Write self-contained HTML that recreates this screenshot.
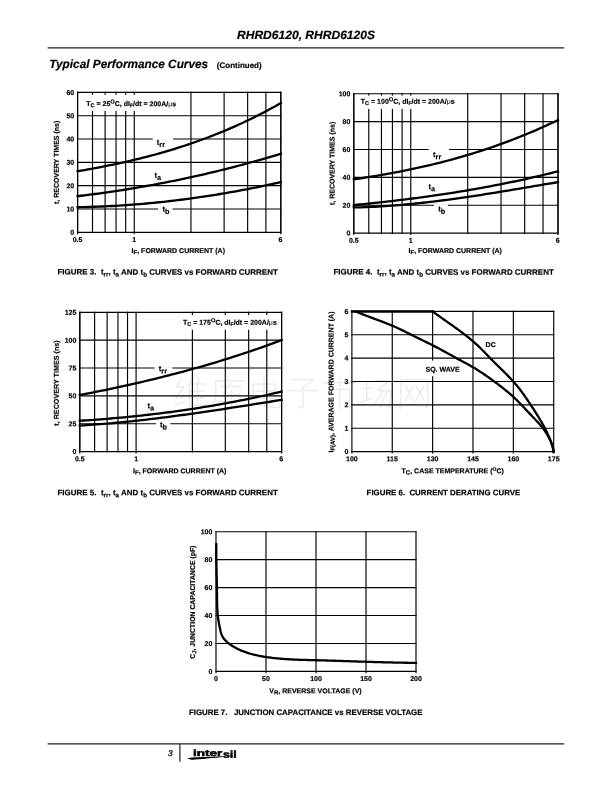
<!DOCTYPE html>
<html><head><meta charset="utf-8"><title>RHRD6120, RHRD6120S</title>
<style>
html,body{margin:0;padding:0;background:#fff;}
body{width:612px;height:792px;overflow:hidden;}
svg{display:block;will-change:transform;filter:blur(0.3px);font-family:"Liberation Sans", sans-serif;fill:#000;}
svg text{font-family:"Liberation Sans", sans-serif;text-rendering:geometricPrecision;stroke:#000;stroke-width:0.18px;}
</style></head><body>
<svg width="612" height="792" viewBox="0 0 612 792">
<rect x="0" y="0" width="612" height="792" fill="#fff"/>
<text x="237" y="38.9" transform="rotate(0.03 237 38.9)" font-size="12" font-weight="bold" font-style="italic" text-anchor="start" textLength="138" lengthAdjust="spacingAndGlyphs">RHRD6120, RHRD6120S</text>
<line x1="47.6" y1="47.95" x2="564.3" y2="47.95" stroke="#222" stroke-width="1.25"/>
<text x="49.3" y="68" transform="rotate(0.03 49.3 68)" font-size="12" font-weight="bold" font-style="italic" text-anchor="start" textLength="158.8" lengthAdjust="spacingAndGlyphs">Typical Performance Curves</text>
<text x="216.8" y="68" transform="rotate(0.03 216.8 68)" font-size="8" font-weight="bold" font-style="normal" text-anchor="start">(Continued)</text>
<line x1="47.6" y1="743.9" x2="564.3" y2="743.9" stroke="#222" stroke-width="1.25"/>
<line x1="179.9" y1="743.9" x2="179.9" y2="761.8" stroke="#222" stroke-width="1.2"/>
<text x="167.9" y="755.9" transform="rotate(0.03 167.9 755.9)" font-size="8.3" font-weight="normal" font-style="italic" text-anchor="start" style="stroke-width:0.3px">3</text>
<text x="193" y="755.9" transform="rotate(0.03 193 755.9)" font-size="9" font-weight="bold" font-style="normal" text-anchor="start" textLength="29.4" lengthAdjust="spacingAndGlyphs" style="stroke-width:0.5px">inter</text>
<text x="222.9" y="757.7" transform="rotate(0.03 222.9 757.7)" font-size="10" font-weight="bold" font-style="normal" text-anchor="start" textLength="13.8" lengthAdjust="spacingAndGlyphs" style="stroke-width:0.45px">sil</text>
<path d="M187.1,758.2 L192,757.5 L223.4,756.3 L223.4,756.9 Q207,758.4 198,759.3 Q192,759.9 190.5,759.4 Z" fill="#000"/>
<g id="wm"><path d="M181.54,378.28 L176.42,387.24 L184.1,386.6M184.1,386.6 L175.78,398.12 L185.38,396.84M175.14,405.16 L186.02,401.32M193.06,377.64 L187.94,386.6M189.86,384.68 L189.86,408.36M197.54,377.64 L199.46,381.48M197.54,382.12 L197.54,405.16M189.86,384.04 L205.22,384.04M189.86,391.08 L203.94,391.08M189.86,398.12 L203.94,398.12M189.86,405.16 L205.86,405.16" fill="none" stroke="#ebebeb" stroke-width="1.5" stroke-linecap="round" stroke-linejoin="round"/>
<path d="M227.8,377 L227.8,380.2M215.64,380.84 L243.16,380.84M215.64,380.84 L215.64,396.2 L212.44,408.36M220.76,386.6 L241.24,386.6M229.72,382.76 L223.32,394.92 L239.32,394.92M218.2,401.32 L243.16,401.32M231.64,389.8 L231.64,409" fill="none" stroke="#ebebeb" stroke-width="1.5" stroke-linecap="round" stroke-linejoin="round"/>
<path d="M252.94,384.04 L252.94,398.76M252.94,384.04 L275.34,384.04 L275.34,398.76M252.94,391.08 L275.34,391.08M252.94,398.12 L275.34,398.12M264.14,377.64 L264.14,405.16 L266.7,407.4 L279.5,407.4 L280.14,403.24" fill="none" stroke="#ebebeb" stroke-width="1.5" stroke-linecap="round" stroke-linejoin="round"/>
<path d="M291.2,379.56 L313.6,379.56 L303.04,387.24M303.04,387.24 L303.04,406.44 L298.56,407.72M287.04,390.44 L317.76,390.44" fill="none" stroke="#ebebeb" stroke-width="1.5" stroke-linecap="round" stroke-linejoin="round"/>
<path d="M339.7,377 L339.7,380.84M324.34,382.76 L355.06,382.76M329.46,389.16 L329.46,402.6M329.46,389.16 L349.94,389.16 L349.94,401.96 L346.74,403.24M339.7,382.76 L339.7,409" fill="none" stroke="#ebebeb" stroke-width="1.5" stroke-linecap="round" stroke-linejoin="round"/>
<path d="M361.64,388.2 L371.88,388.2M366.76,380.2 L366.76,400.04M361,401.96 L372.52,398.12M374.44,380.84 L389.16,380.84 L377.64,390.44M377.64,390.44 L391.4,390.44 L389.16,407.4 L385.96,406.44M383.4,390.44 L373.8,405.16M387.88,390.44 L379.56,407.4" fill="none" stroke="#ebebeb" stroke-width="1.5" stroke-linecap="round" stroke-linejoin="round"/>
<path d="M400.86,379.56 L400.86,408.36M400.86,379.56 L427.74,379.56 L427.74,406.44 L424.54,407.72M405.34,385.96 L413.02,400.04M413.02,385.96 L404.7,401.32M416.22,385.96 L423.9,400.04M423.9,385.96 L415.58,401.32" fill="none" stroke="#ebebeb" stroke-width="1.5" stroke-linecap="round" stroke-linejoin="round"/></g>
<line x1="77.6" y1="232.3" x2="280.8" y2="232.3" stroke="#000" stroke-width="1.15" stroke-linecap="square"/>
<line x1="77.6" y1="208.98" x2="280.8" y2="208.98" stroke="#000" stroke-width="1.15" stroke-linecap="square"/>
<line x1="77.6" y1="185.67" x2="280.8" y2="185.67" stroke="#000" stroke-width="1.15" stroke-linecap="square"/>
<line x1="77.6" y1="162.35" x2="280.8" y2="162.35" stroke="#000" stroke-width="1.15" stroke-linecap="square"/>
<line x1="77.6" y1="139.03" x2="280.8" y2="139.03" stroke="#000" stroke-width="1.15" stroke-linecap="square"/>
<line x1="77.6" y1="115.72" x2="280.8" y2="115.72" stroke="#000" stroke-width="1.15" stroke-linecap="square"/>
<line x1="77.6" y1="92.4" x2="280.8" y2="92.4" stroke="#000" stroke-width="1.15" stroke-linecap="square"/>
<line x1="77.6" y1="92.4" x2="77.6" y2="233.6" stroke="#000" stroke-width="1.15" stroke-linecap="square"/>
<line x1="92.51" y1="92.4" x2="92.51" y2="232.3" stroke="#000" stroke-width="1.15" stroke-linecap="square"/>
<line x1="105.11" y1="92.4" x2="105.11" y2="232.3" stroke="#000" stroke-width="1.15" stroke-linecap="square"/>
<line x1="116.03" y1="92.4" x2="116.03" y2="232.3" stroke="#000" stroke-width="1.15" stroke-linecap="square"/>
<line x1="125.67" y1="92.4" x2="125.67" y2="232.3" stroke="#000" stroke-width="1.15" stroke-linecap="square"/>
<line x1="134.28" y1="92.4" x2="134.28" y2="233.6" stroke="#000" stroke-width="1.15" stroke-linecap="square"/>
<line x1="190.96" y1="92.4" x2="190.96" y2="232.3" stroke="#000" stroke-width="1.15" stroke-linecap="square"/>
<line x1="224.12" y1="92.4" x2="224.12" y2="232.3" stroke="#000" stroke-width="1.15" stroke-linecap="square"/>
<line x1="247.64" y1="92.4" x2="247.64" y2="232.3" stroke="#000" stroke-width="1.15" stroke-linecap="square"/>
<line x1="265.89" y1="92.4" x2="265.89" y2="232.3" stroke="#000" stroke-width="1.15" stroke-linecap="square"/>
<line x1="280.8" y1="92.4" x2="280.8" y2="233.6" stroke="#000" stroke-width="1.15" stroke-linecap="square"/>
<rect x="78.6" y="94.8" width="71.4" height="16.1" fill="#fff"/>
<line x1="77.6" y1="92.4" x2="77.6" y2="232.3" stroke="#000" stroke-width="1.15" stroke-linecap="square"/>
<line x1="280.8" y1="92.4" x2="280.8" y2="232.3" stroke="#000" stroke-width="1.15" stroke-linecap="square"/>
<rect x="152.8" y="137.8" width="20.2" height="2.4" fill="#fff"/>
<rect x="158" y="208.1" width="14.6" height="2.4" fill="#fff"/>
<path d="M77.6,171.21 L81.04,170.62 L84.49,170.03 L87.93,169.42 L91.38,168.8 L94.82,168.17 L98.26,167.52 L101.71,166.86 L105.15,166.18 L108.6,165.49 L112.04,164.79 L115.48,164.07 L118.93,163.33 L122.37,162.58 L125.82,161.81 L129.26,161.02 L132.71,160.21 L136.15,159.39 L139.59,158.55 L143.04,157.69 L146.48,156.81 L149.93,155.91 L153.37,154.99 L156.81,154.05 L160.26,153.09 L163.7,152.11 L167.15,151.11 L170.59,150.08 L174.03,149.03 L177.48,147.96 L180.92,146.87 L184.37,145.75 L187.81,144.6 L191.25,143.44 L194.7,142.24 L198.14,141.03 L201.59,139.78 L205.03,138.51 L208.47,137.22 L211.92,135.89 L215.36,134.54 L218.81,133.16 L222.25,131.75 L225.69,130.32 L229.14,128.85 L232.58,127.36 L236.03,125.83 L239.47,124.28 L242.92,122.69 L246.36,121.07 L249.8,119.42 L253.25,117.74 L256.69,116.03 L260.14,114.28 L263.58,112.5 L267.02,110.69 L270.47,108.84 L273.91,106.96 L277.36,105.04 L280.8,103.09" fill="none" stroke="#000" stroke-width="2.3" stroke-linejoin="round" stroke-linecap="square"/>
<path d="M77.6,196.16 L81.04,195.75 L84.49,195.33 L87.93,194.9 L91.38,194.46 L94.82,194.01 L98.26,193.54 L101.71,193.07 L105.15,192.59 L108.6,192.1 L112.04,191.6 L115.48,191.09 L118.93,190.56 L122.37,190.03 L125.82,189.49 L129.26,188.93 L132.71,188.37 L136.15,187.79 L139.59,187.21 L143.04,186.61 L146.48,186 L149.93,185.39 L153.37,184.76 L156.81,184.12 L160.26,183.47 L163.7,182.81 L167.15,182.14 L170.59,181.46 L174.03,180.76 L177.48,180.06 L180.92,179.35 L184.37,178.62 L187.81,177.88 L191.25,177.14 L194.7,176.38 L198.14,175.61 L201.59,174.83 L205.03,174.03 L208.47,173.23 L211.92,172.42 L215.36,171.59 L218.81,170.75 L222.25,169.91 L225.69,169.05 L229.14,168.18 L232.58,167.29 L236.03,166.4 L239.47,165.49 L242.92,164.58 L246.36,163.65 L249.8,162.71 L253.25,161.76 L256.69,160.8 L260.14,159.82 L263.58,158.84 L267.02,157.84 L270.47,156.83 L273.91,155.81 L277.36,154.78 L280.8,153.73" fill="none" stroke="#000" stroke-width="2.3" stroke-linejoin="round" stroke-linecap="square"/>
<path d="M77.6,207.23 L81.04,207.16 L84.49,207.08 L87.93,206.99 L91.38,206.88 L94.82,206.77 L98.26,206.63 L101.71,206.49 L105.15,206.33 L108.6,206.17 L112.04,205.98 L115.48,205.79 L118.93,205.58 L122.37,205.36 L125.82,205.13 L129.26,204.89 L132.71,204.63 L136.15,204.36 L139.59,204.08 L143.04,203.79 L146.48,203.48 L149.93,203.17 L153.37,202.83 L156.81,202.49 L160.26,202.14 L163.7,201.77 L167.15,201.39 L170.59,201 L174.03,200.59 L177.48,200.18 L180.92,199.75 L184.37,199.31 L187.81,198.86 L191.25,198.39 L194.7,197.91 L198.14,197.43 L201.59,196.93 L205.03,196.41 L208.47,195.89 L211.92,195.35 L215.36,194.8 L218.81,194.24 L222.25,193.67 L225.69,193.09 L229.14,192.49 L232.58,191.88 L236.03,191.26 L239.47,190.63 L242.92,189.99 L246.36,189.33 L249.8,188.67 L253.25,187.99 L256.69,187.3 L260.14,186.6 L263.58,185.89 L267.02,185.16 L270.47,184.42 L273.91,183.68 L277.36,182.92 L280.8,182.15" fill="none" stroke="#000" stroke-width="2.3" stroke-linejoin="round" stroke-linecap="square"/>
<text x="156.8" y="144.8" transform="rotate(0.03 156.8 144.8)" font-size="7.6" text-anchor="start" font-weight="bold" font-style="normal">t<tspan dy="2.3" font-size="7.3">rr</tspan></text>
<text x="154.4" y="177.8" transform="rotate(0.03 154.4 177.8)" font-size="7.6" text-anchor="start" font-weight="bold" font-style="normal">t<tspan dy="2.3" font-size="7.3">a</tspan></text>
<text x="162.4" y="211.6" transform="rotate(0.03 162.4 211.6)" font-size="7.6" text-anchor="start" font-weight="bold" font-style="normal">t<tspan dy="2.3" font-size="7.3">b</tspan></text>
<text x="86.2" y="106.1" transform="rotate(0.03 86.2 106.1)" font-size="7" text-anchor="start" font-weight="bold" font-style="normal">T<tspan dy="1.2" font-size="5.6">C</tspan><tspan dy="-1.2"> = 25</tspan><tspan dy="-2.5" font-size="5.8">O</tspan><tspan dy="2.5">C, dI</tspan><tspan dy="1.2" font-size="5.0">F</tspan><tspan dy="-1.2">/dt = 200A/<tspan font-weight="normal" style="stroke:none">&#956;</tspan>s</tspan></text>
<text x="74.2" y="234.8" transform="rotate(0.03 74.2 234.8)" font-size="7" text-anchor="end" font-weight="bold" font-style="normal">0</text>
<text x="74.2" y="211.48" transform="rotate(0.03 74.2 211.48)" font-size="7" text-anchor="end" font-weight="bold" font-style="normal">10</text>
<text x="74.2" y="188.17" transform="rotate(0.03 74.2 188.17)" font-size="7" text-anchor="end" font-weight="bold" font-style="normal">20</text>
<text x="74.2" y="164.85" transform="rotate(0.03 74.2 164.85)" font-size="7" text-anchor="end" font-weight="bold" font-style="normal">30</text>
<text x="74.2" y="141.53" transform="rotate(0.03 74.2 141.53)" font-size="7" text-anchor="end" font-weight="bold" font-style="normal">40</text>
<text x="74.2" y="118.22" transform="rotate(0.03 74.2 118.22)" font-size="7" text-anchor="end" font-weight="bold" font-style="normal">50</text>
<text x="74.2" y="94.9" transform="rotate(0.03 74.2 94.9)" font-size="7" text-anchor="end" font-weight="bold" font-style="normal">60</text>
<text x="77.6" y="241.9" transform="rotate(0.03 77.6 241.9)" font-size="7" text-anchor="middle" font-weight="bold" font-style="normal">0.5</text>
<text x="134.28" y="241.9" transform="rotate(0.03 134.28 241.9)" font-size="7" text-anchor="middle" font-weight="bold" font-style="normal">1</text>
<text x="280.4" y="241.9" transform="rotate(0.03 280.4 241.9)" font-size="7" text-anchor="middle" font-weight="bold" font-style="normal">6</text>
<text transform="translate(58.7 162.35) rotate(-90.03)" font-size="7" text-anchor="middle" font-weight="bold">t, RECOVERY TIMES (ns)</text>
<text x="131.6" y="252.9" transform="rotate(0.03 131.6 252.9)" font-size="7" text-anchor="start" font-weight="bold" font-style="normal">I<tspan dy="1.3" font-size="6.0">F</tspan><tspan dy="-1.3">, FORWARD CURRENT (A)</tspan></text>
<text x="57.5" y="274.6" transform="rotate(0.03 57.5 274.6)" font-size="8" text-anchor="start" font-weight="bold" font-style="normal" textLength="220.3" lengthAdjust="spacingAndGlyphs">FIGURE 3.&#160; t<tspan dy="2" font-size="6.4">rr</tspan><tspan dy="-2">, t</tspan><tspan dy="2" font-size="6.4">a</tspan><tspan dy="-2"> AND t</tspan><tspan dy="2" font-size="6.4">b</tspan><tspan dy="-2"> CURVES vs FORWARD CURRENT</tspan></text>
<line x1="353.8" y1="233.1" x2="558" y2="233.1" stroke="#000" stroke-width="1.15" stroke-linecap="square"/>
<line x1="353.8" y1="205.22" x2="558" y2="205.22" stroke="#000" stroke-width="1.15" stroke-linecap="square"/>
<line x1="353.8" y1="177.34" x2="558" y2="177.34" stroke="#000" stroke-width="1.15" stroke-linecap="square"/>
<line x1="353.8" y1="149.46" x2="558" y2="149.46" stroke="#000" stroke-width="1.15" stroke-linecap="square"/>
<line x1="353.8" y1="121.58" x2="558" y2="121.58" stroke="#000" stroke-width="1.15" stroke-linecap="square"/>
<line x1="353.8" y1="93.7" x2="558" y2="93.7" stroke="#000" stroke-width="1.15" stroke-linecap="square"/>
<line x1="353.8" y1="93.7" x2="353.8" y2="234.4" stroke="#000" stroke-width="1.15" stroke-linecap="square"/>
<line x1="368.78" y1="93.7" x2="368.78" y2="233.1" stroke="#000" stroke-width="1.15" stroke-linecap="square"/>
<line x1="381.45" y1="93.7" x2="381.45" y2="233.1" stroke="#000" stroke-width="1.15" stroke-linecap="square"/>
<line x1="392.42" y1="93.7" x2="392.42" y2="233.1" stroke="#000" stroke-width="1.15" stroke-linecap="square"/>
<line x1="402.1" y1="93.7" x2="402.1" y2="233.1" stroke="#000" stroke-width="1.15" stroke-linecap="square"/>
<line x1="410.76" y1="93.7" x2="410.76" y2="234.4" stroke="#000" stroke-width="1.15" stroke-linecap="square"/>
<line x1="467.72" y1="93.7" x2="467.72" y2="233.1" stroke="#000" stroke-width="1.15" stroke-linecap="square"/>
<line x1="501.04" y1="93.7" x2="501.04" y2="233.1" stroke="#000" stroke-width="1.15" stroke-linecap="square"/>
<line x1="524.68" y1="93.7" x2="524.68" y2="233.1" stroke="#000" stroke-width="1.15" stroke-linecap="square"/>
<line x1="543.02" y1="93.7" x2="543.02" y2="233.1" stroke="#000" stroke-width="1.15" stroke-linecap="square"/>
<line x1="558" y1="93.7" x2="558" y2="234.4" stroke="#000" stroke-width="1.15" stroke-linecap="square"/>
<rect x="354.8" y="95.6" width="65.2" height="13.3" fill="#fff"/>
<line x1="353.8" y1="93.7" x2="353.8" y2="233.1" stroke="#000" stroke-width="1.15" stroke-linecap="square"/>
<line x1="558" y1="93.7" x2="558" y2="233.1" stroke="#000" stroke-width="1.15" stroke-linecap="square"/>
<rect x="428.75" y="148.6" width="20.25" height="2.4" fill="#fff"/>
<rect x="433.9" y="204.3" width="14.1" height="2.4" fill="#fff"/>
<path d="M353.8,179.29 L357.26,178.79 L360.72,178.28 L364.18,177.76 L367.64,177.23 L371.11,176.68 L374.57,176.12 L378.03,175.55 L381.49,174.96 L384.95,174.36 L388.41,173.74 L391.87,173.1 L395.33,172.46 L398.79,171.79 L402.25,171.11 L405.72,170.42 L409.18,169.71 L412.64,168.98 L416.1,168.24 L419.56,167.47 L423.02,166.7 L426.48,165.9 L429.94,165.09 L433.4,164.25 L436.86,163.4 L440.33,162.53 L443.79,161.65 L447.25,160.74 L450.71,159.81 L454.17,158.87 L457.63,157.9 L461.09,156.91 L464.55,155.91 L468.01,154.88 L471.47,153.83 L474.94,152.76 L478.4,151.67 L481.86,150.56 L485.32,149.42 L488.78,148.26 L492.24,147.08 L495.7,145.88 L499.16,144.66 L502.62,143.41 L506.08,142.13 L509.55,140.84 L513.01,139.52 L516.47,138.17 L519.93,136.8 L523.39,135.41 L526.85,133.99 L530.31,132.54 L533.77,131.07 L537.23,129.57 L540.69,128.05 L544.16,126.5 L547.62,124.92 L551.08,123.32 L554.54,121.69 L558,120.03" fill="none" stroke="#000" stroke-width="2.3" stroke-linejoin="round" stroke-linecap="square"/>
<path d="M353.8,205.08 L357.26,204.74 L360.72,204.4 L364.18,204.05 L367.64,203.69 L371.11,203.33 L374.57,202.97 L378.03,202.6 L381.49,202.22 L384.95,201.83 L388.41,201.44 L391.87,201.04 L395.33,200.63 L398.79,200.22 L402.25,199.8 L405.72,199.37 L409.18,198.93 L412.64,198.49 L416.1,198.04 L419.56,197.58 L423.02,197.11 L426.48,196.64 L429.94,196.15 L433.4,195.66 L436.86,195.16 L440.33,194.65 L443.79,194.13 L447.25,193.61 L450.71,193.07 L454.17,192.53 L457.63,191.97 L461.09,191.41 L464.55,190.83 L468.01,190.25 L471.47,189.66 L474.94,189.06 L478.4,188.45 L481.86,187.82 L485.32,187.19 L488.78,186.55 L492.24,185.89 L495.7,185.23 L499.16,184.56 L502.62,183.87 L506.08,183.17 L509.55,182.47 L513.01,181.75 L516.47,181.02 L519.93,180.28 L523.39,179.52 L526.85,178.76 L530.31,177.98 L533.77,177.19 L537.23,176.39 L540.69,175.58 L544.16,174.75 L547.62,173.92 L551.08,173.07 L554.54,172.2 L558,171.33" fill="none" stroke="#000" stroke-width="2.3" stroke-linejoin="round" stroke-linecap="square"/>
<path d="M353.8,207.44 L357.26,207.37 L360.72,207.28 L364.18,207.18 L367.64,207.05 L371.11,206.9 L374.57,206.74 L378.03,206.56 L381.49,206.36 L384.95,206.15 L388.41,205.91 L391.87,205.67 L395.33,205.4 L398.79,205.12 L402.25,204.83 L405.72,204.52 L409.18,204.19 L412.64,203.86 L416.1,203.51 L419.56,203.14 L423.02,202.76 L426.48,202.37 L429.94,201.97 L433.4,201.56 L436.86,201.13 L440.33,200.7 L443.79,200.25 L447.25,199.8 L450.71,199.33 L454.17,198.86 L457.63,198.37 L461.09,197.88 L464.55,197.38 L468.01,196.87 L471.47,196.35 L474.94,195.83 L478.4,195.3 L481.86,194.77 L485.32,194.22 L488.78,193.68 L492.24,193.13 L495.7,192.57 L499.16,192.01 L502.62,191.44 L506.08,190.87 L509.55,190.3 L513.01,189.73 L516.47,189.15 L519.93,188.57 L523.39,187.99 L526.85,187.41 L530.31,186.82 L533.77,186.24 L537.23,185.66 L540.69,185.07 L544.16,184.49 L547.62,183.91 L551.08,183.33 L554.54,182.75 L558,182.17" fill="none" stroke="#000" stroke-width="2.3" stroke-linejoin="round" stroke-linecap="square"/>
<text x="433.1" y="156.9" transform="rotate(0.03 433.1 156.9)" font-size="7.6" text-anchor="start" font-weight="bold" font-style="normal">t<tspan dy="2.3" font-size="7.3">rr</tspan></text>
<text x="428.5" y="189" transform="rotate(0.03 428.5 189)" font-size="7.6" text-anchor="start" font-weight="bold" font-style="normal">t<tspan dy="2.3" font-size="7.3">a</tspan></text>
<text x="438.2" y="211.4" transform="rotate(0.03 438.2 211.4)" font-size="7.6" text-anchor="start" font-weight="bold" font-style="normal">t<tspan dy="2.3" font-size="7.3">b</tspan></text>
<text x="360.8" y="103.8" transform="rotate(0.03 360.8 103.8)" font-size="7" text-anchor="start" font-weight="bold" font-style="normal">T<tspan dy="1.2" font-size="5.6">C</tspan><tspan dy="-1.2"> = 100</tspan><tspan dy="-2.5" font-size="5.8">O</tspan><tspan dy="2.5">C, dI</tspan><tspan dy="1.2" font-size="5.0">F</tspan><tspan dy="-1.2">/dt = 200A/<tspan font-weight="normal" style="stroke:none">&#956;</tspan>s</tspan></text>
<text x="350.4" y="235.6" transform="rotate(0.03 350.4 235.6)" font-size="7" text-anchor="end" font-weight="bold" font-style="normal">0</text>
<text x="350.4" y="207.72" transform="rotate(0.03 350.4 207.72)" font-size="7" text-anchor="end" font-weight="bold" font-style="normal">20</text>
<text x="350.4" y="179.84" transform="rotate(0.03 350.4 179.84)" font-size="7" text-anchor="end" font-weight="bold" font-style="normal">40</text>
<text x="350.4" y="151.96" transform="rotate(0.03 350.4 151.96)" font-size="7" text-anchor="end" font-weight="bold" font-style="normal">60</text>
<text x="350.4" y="124.08" transform="rotate(0.03 350.4 124.08)" font-size="7" text-anchor="end" font-weight="bold" font-style="normal">80</text>
<text x="350.4" y="96.2" transform="rotate(0.03 350.4 96.2)" font-size="7" text-anchor="end" font-weight="bold" font-style="normal">100</text>
<text x="353.8" y="242.7" transform="rotate(0.03 353.8 242.7)" font-size="7" text-anchor="middle" font-weight="bold" font-style="normal">0.5</text>
<text x="410.76" y="242.7" transform="rotate(0.03 410.76 242.7)" font-size="7" text-anchor="middle" font-weight="bold" font-style="normal">1</text>
<text x="557.6" y="242.7" transform="rotate(0.03 557.6 242.7)" font-size="7" text-anchor="middle" font-weight="bold" font-style="normal">6</text>
<text transform="translate(334.6 163.4) rotate(-90.03)" font-size="7" text-anchor="middle" font-weight="bold">t, RECOVERY TIMES (ns)</text>
<text x="408.5" y="252.9" transform="rotate(0.03 408.5 252.9)" font-size="7" text-anchor="start" font-weight="bold" font-style="normal">I<tspan dy="1.3" font-size="6.0">F</tspan><tspan dy="-1.3">, FORWARD CURRENT (A)</tspan></text>
<text x="333.5" y="274.6" transform="rotate(0.03 333.5 274.6)" font-size="8" text-anchor="start" font-weight="bold" font-style="normal" textLength="220.3" lengthAdjust="spacingAndGlyphs">FIGURE 4.&#160; t<tspan dy="2" font-size="6.4">rr</tspan><tspan dy="-2">, t</tspan><tspan dy="2" font-size="6.4">a</tspan><tspan dy="-2"> AND t</tspan><tspan dy="2" font-size="6.4">b</tspan><tspan dy="-2"> CURVES vs FORWARD CURRENT</tspan></text>
<line x1="79.8" y1="451.6" x2="281.6" y2="451.6" stroke="#000" stroke-width="1.15" stroke-linecap="square"/>
<line x1="79.8" y1="423.74" x2="281.6" y2="423.74" stroke="#000" stroke-width="1.15" stroke-linecap="square"/>
<line x1="79.8" y1="395.88" x2="281.6" y2="395.88" stroke="#000" stroke-width="1.15" stroke-linecap="square"/>
<line x1="79.8" y1="368.02" x2="281.6" y2="368.02" stroke="#000" stroke-width="1.15" stroke-linecap="square"/>
<line x1="79.8" y1="340.16" x2="281.6" y2="340.16" stroke="#000" stroke-width="1.15" stroke-linecap="square"/>
<line x1="79.8" y1="312.3" x2="281.6" y2="312.3" stroke="#000" stroke-width="1.15" stroke-linecap="square"/>
<line x1="79.8" y1="312.3" x2="79.8" y2="452.9" stroke="#000" stroke-width="1.15" stroke-linecap="square"/>
<line x1="94.61" y1="312.3" x2="94.61" y2="451.6" stroke="#000" stroke-width="1.15" stroke-linecap="square"/>
<line x1="107.13" y1="312.3" x2="107.13" y2="451.6" stroke="#000" stroke-width="1.15" stroke-linecap="square"/>
<line x1="117.97" y1="312.3" x2="117.97" y2="451.6" stroke="#000" stroke-width="1.15" stroke-linecap="square"/>
<line x1="127.53" y1="312.3" x2="127.53" y2="451.6" stroke="#000" stroke-width="1.15" stroke-linecap="square"/>
<line x1="136.09" y1="312.3" x2="136.09" y2="452.9" stroke="#000" stroke-width="1.15" stroke-linecap="square"/>
<line x1="192.38" y1="312.3" x2="192.38" y2="451.6" stroke="#000" stroke-width="1.15" stroke-linecap="square"/>
<line x1="225.31" y1="312.3" x2="225.31" y2="451.6" stroke="#000" stroke-width="1.15" stroke-linecap="square"/>
<line x1="248.67" y1="312.3" x2="248.67" y2="451.6" stroke="#000" stroke-width="1.15" stroke-linecap="square"/>
<line x1="266.79" y1="312.3" x2="266.79" y2="451.6" stroke="#000" stroke-width="1.15" stroke-linecap="square"/>
<line x1="281.6" y1="312.3" x2="281.6" y2="452.9" stroke="#000" stroke-width="1.15" stroke-linecap="square"/>
<rect x="178" y="315.1" width="102.6" height="14.6" fill="#fff"/>
<line x1="79.8" y1="312.3" x2="79.8" y2="451.6" stroke="#000" stroke-width="1.15" stroke-linecap="square"/>
<line x1="281.6" y1="312.3" x2="281.6" y2="451.6" stroke="#000" stroke-width="1.15" stroke-linecap="square"/>
<rect x="154.4" y="367.1" width="17.9" height="2.4" fill="#fff"/>
<rect x="155.9" y="422.8" width="14.4" height="2.4" fill="#fff"/>
<path d="M79.8,394.99 L83.22,394.34 L86.64,393.68 L90.06,393.02 L93.48,392.35 L96.9,391.67 L100.32,390.98 L103.74,390.28 L107.16,389.58 L110.58,388.86 L114,388.14 L117.42,387.41 L120.84,386.67 L124.26,385.93 L127.68,385.17 L131.11,384.41 L134.53,383.63 L137.95,382.85 L141.37,382.05 L144.79,381.25 L148.21,380.44 L151.63,379.62 L155.05,378.79 L158.47,377.95 L161.89,377.09 L165.31,376.23 L168.73,375.36 L172.15,374.48 L175.57,373.59 L178.99,372.68 L182.41,371.77 L185.83,370.85 L189.25,369.91 L192.67,368.96 L196.09,368.01 L199.51,367.04 L202.93,366.06 L206.35,365.07 L209.77,364.07 L213.19,363.05 L216.61,362.03 L220.03,360.99 L223.45,359.94 L226.87,358.88 L230.29,357.8 L233.72,356.72 L237.14,355.62 L240.56,354.51 L243.98,353.38 L247.4,352.24 L250.82,351.09 L254.24,349.93 L257.66,348.76 L261.08,347.57 L264.5,346.37 L267.92,345.15 L271.34,343.92 L274.76,342.68 L278.18,341.42 L281.6,340.15" fill="none" stroke="#000" stroke-width="2.3" stroke-linejoin="round" stroke-linecap="square"/>
<path d="M79.8,420.72 L83.22,420.51 L86.64,420.29 L90.06,420.06 L93.48,419.82 L96.9,419.58 L100.32,419.32 L103.74,419.05 L107.16,418.78 L110.58,418.5 L114,418.2 L117.42,417.9 L120.84,417.59 L124.26,417.27 L127.68,416.94 L131.11,416.6 L134.53,416.25 L137.95,415.89 L141.37,415.53 L144.79,415.15 L148.21,414.76 L151.63,414.37 L155.05,413.96 L158.47,413.54 L161.89,413.12 L165.31,412.68 L168.73,412.24 L172.15,411.78 L175.57,411.31 L178.99,410.84 L182.41,410.35 L185.83,409.85 L189.25,409.35 L192.67,408.83 L196.09,408.3 L199.51,407.77 L202.93,407.22 L206.35,406.66 L209.77,406.09 L213.19,405.51 L216.61,404.92 L220.03,404.32 L223.45,403.71 L226.87,403.08 L230.29,402.45 L233.72,401.81 L237.14,401.15 L240.56,400.49 L243.98,399.81 L247.4,399.12 L250.82,398.42 L254.24,397.71 L257.66,396.99 L261.08,396.25 L264.5,395.51 L267.92,394.75 L271.34,393.99 L274.76,393.21 L278.18,392.42 L281.6,391.61" fill="none" stroke="#000" stroke-width="2.3" stroke-linejoin="round" stroke-linecap="square"/>
<path d="M79.8,425.63 L83.22,425.42 L86.64,425.19 L90.06,424.96 L93.48,424.71 L96.9,424.45 L100.32,424.18 L103.74,423.9 L107.16,423.61 L110.58,423.31 L114,423 L117.42,422.68 L120.84,422.35 L124.26,422.01 L127.68,421.66 L131.11,421.3 L134.53,420.94 L137.95,420.56 L141.37,420.18 L144.79,419.79 L148.21,419.39 L151.63,418.98 L155.05,418.57 L158.47,418.15 L161.89,417.72 L165.31,417.28 L168.73,416.84 L172.15,416.39 L175.57,415.93 L178.99,415.47 L182.41,415.01 L185.83,414.53 L189.25,414.06 L192.67,413.57 L196.09,413.08 L199.51,412.59 L202.93,412.09 L206.35,411.59 L209.77,411.09 L213.19,410.58 L216.61,410.06 L220.03,409.55 L223.45,409.03 L226.87,408.5 L230.29,407.98 L233.72,407.45 L237.14,406.91 L240.56,406.38 L243.98,405.84 L247.4,405.31 L250.82,404.77 L254.24,404.23 L257.66,403.69 L261.08,403.14 L264.5,402.6 L267.92,402.05 L271.34,401.51 L274.76,400.96 L278.18,400.42 L281.6,399.88" fill="none" stroke="#000" stroke-width="2.3" stroke-linejoin="round" stroke-linecap="square"/>
<text x="158.8" y="371.1" transform="rotate(0.03 158.8 371.1)" font-size="7.6" text-anchor="start" font-weight="bold" font-style="normal">t<tspan dy="2.3" font-size="7.3">rr</tspan></text>
<text x="147.4" y="408.2" transform="rotate(0.03 147.4 408.2)" font-size="7.6" text-anchor="start" font-weight="bold" font-style="normal">t<tspan dy="2.3" font-size="7.3">a</tspan></text>
<text x="159.9" y="427.2" transform="rotate(0.03 159.9 427.2)" font-size="7.6" text-anchor="start" font-weight="bold" font-style="normal">t<tspan dy="2.3" font-size="7.3">b</tspan></text>
<text x="276.8" y="324.8" transform="rotate(0.03 276.8 324.8)" font-size="7" text-anchor="end" font-weight="bold" font-style="normal">T<tspan dy="1.2" font-size="5.6">C</tspan><tspan dy="-1.2"> = 175</tspan><tspan dy="-2.5" font-size="5.8">O</tspan><tspan dy="2.5">C, dI</tspan><tspan dy="1.2" font-size="5.0">F</tspan><tspan dy="-1.2">/dt = 200A/<tspan font-weight="normal" style="stroke:none">&#956;</tspan>s</tspan></text>
<text x="76.4" y="454.1" transform="rotate(0.03 76.4 454.1)" font-size="7" text-anchor="end" font-weight="bold" font-style="normal">0</text>
<text x="76.4" y="426.24" transform="rotate(0.03 76.4 426.24)" font-size="7" text-anchor="end" font-weight="bold" font-style="normal">25</text>
<text x="76.4" y="398.38" transform="rotate(0.03 76.4 398.38)" font-size="7" text-anchor="end" font-weight="bold" font-style="normal">50</text>
<text x="76.4" y="370.52" transform="rotate(0.03 76.4 370.52)" font-size="7" text-anchor="end" font-weight="bold" font-style="normal">75</text>
<text x="76.4" y="342.66" transform="rotate(0.03 76.4 342.66)" font-size="7" text-anchor="end" font-weight="bold" font-style="normal">100</text>
<text x="76.4" y="314.8" transform="rotate(0.03 76.4 314.8)" font-size="7" text-anchor="end" font-weight="bold" font-style="normal">125</text>
<text x="79.8" y="461.2" transform="rotate(0.03 79.8 461.2)" font-size="7" text-anchor="middle" font-weight="bold" font-style="normal">0.5</text>
<text x="136.09" y="461.2" transform="rotate(0.03 136.09 461.2)" font-size="7" text-anchor="middle" font-weight="bold" font-style="normal">1</text>
<text x="281.2" y="461.2" transform="rotate(0.03 281.2 461.2)" font-size="7" text-anchor="middle" font-weight="bold" font-style="normal">6</text>
<text transform="translate(58.7 383) rotate(-90.03)" font-size="7" text-anchor="middle" font-weight="bold" textLength="85.5" lengthAdjust="spacingAndGlyphs">t, RECOVERY TIMES (ns)</text>
<text x="133" y="473.2" transform="rotate(0.03 133 473.2)" font-size="7" text-anchor="start" font-weight="bold" font-style="normal">I<tspan dy="1.3" font-size="6.0">F</tspan><tspan dy="-1.3">, FORWARD CURRENT (A)</tspan></text>
<text x="57.5" y="495.2" transform="rotate(0.03 57.5 495.2)" font-size="8" text-anchor="start" font-weight="bold" font-style="normal" textLength="220.3" lengthAdjust="spacingAndGlyphs">FIGURE 5.&#160; t<tspan dy="2" font-size="6.4">rr</tspan><tspan dy="-2">, t</tspan><tspan dy="2" font-size="6.4">a</tspan><tspan dy="-2"> AND t</tspan><tspan dy="2" font-size="6.4">b</tspan><tspan dy="-2"> CURVES vs FORWARD CURRENT</tspan></text>
<line x1="351.9" y1="451.6" x2="553.7" y2="451.6" stroke="#000" stroke-width="1.15" stroke-linecap="square"/>
<line x1="351.9" y1="428.23" x2="553.7" y2="428.23" stroke="#000" stroke-width="1.15" stroke-linecap="square"/>
<line x1="351.9" y1="404.87" x2="553.7" y2="404.87" stroke="#000" stroke-width="1.15" stroke-linecap="square"/>
<line x1="351.9" y1="381.5" x2="553.7" y2="381.5" stroke="#000" stroke-width="1.15" stroke-linecap="square"/>
<line x1="351.9" y1="358.13" x2="553.7" y2="358.13" stroke="#000" stroke-width="1.15" stroke-linecap="square"/>
<line x1="351.9" y1="334.77" x2="553.7" y2="334.77" stroke="#000" stroke-width="1.15" stroke-linecap="square"/>
<line x1="351.9" y1="311.4" x2="553.7" y2="311.4" stroke="#000" stroke-width="1.15" stroke-linecap="square"/>
<line x1="351.9" y1="311.4" x2="351.9" y2="452.9" stroke="#000" stroke-width="1.15" stroke-linecap="square"/>
<line x1="392.26" y1="311.4" x2="392.26" y2="452.9" stroke="#000" stroke-width="1.15" stroke-linecap="square"/>
<line x1="432.62" y1="311.4" x2="432.62" y2="452.9" stroke="#000" stroke-width="1.15" stroke-linecap="square"/>
<line x1="472.98" y1="311.4" x2="472.98" y2="452.9" stroke="#000" stroke-width="1.15" stroke-linecap="square"/>
<line x1="513.34" y1="311.4" x2="513.34" y2="452.9" stroke="#000" stroke-width="1.15" stroke-linecap="square"/>
<line x1="553.7" y1="311.4" x2="553.7" y2="452.9" stroke="#000" stroke-width="1.15" stroke-linecap="square"/>
<rect x="424.6" y="360.6" width="35.6" height="15.6" fill="#fff"/>
<path d="M355.9,311.5 L359.25,312.92 L362.77,314.33 L366.41,315.75 L370.15,317.16 L373.93,318.58 L377.73,319.99 L381.49,321.41 L385.18,322.82 L388.76,324.24 L392.19,325.65 L395.43,327.07 L398.52,328.48 L401.48,329.9 L404.35,331.31 L407.18,332.73 L409.99,334.14 L412.82,335.56 L415.69,336.97 L418.6,338.39 L421.53,339.8 L424.45,341.22 L427.35,342.63 L430.21,344.05 L433.02,345.46 L435.76,346.88 L438.45,348.29 L441.08,349.71 L443.68,351.12 L446.25,352.54 L448.81,353.95 L451.36,355.37 L453.92,356.78 L456.5,358.2 L459.11,359.62 L461.73,361.03 L464.36,362.45 L466.97,363.86 L469.53,365.28 L472.04,366.69 L474.46,368.11 L476.8,369.52 L479.06,370.94 L481.25,372.35 L483.39,373.77 L485.47,375.18 L487.5,376.6 L489.49,378.01 L491.45,379.43 L493.38,380.84 L495.29,382.26 L497.18,383.67 L499.05,385.09 L500.89,386.5 L502.71,387.92 L504.5,389.33 L506.25,390.75 L507.97,392.16 L509.64,393.58 L511.28,394.99 L512.86,396.41 L514.4,397.82 L515.89,399.24 L517.33,400.65 L518.74,402.07 L520.13,403.48 L521.48,404.9 L522.82,406.32 L524.14,407.73 L525.46,409.15 L526.78,410.56 L528.09,411.98 L529.42,413.39 L530.77,414.81 L532.12,416.22 L533.48,417.64 L534.84,419.05 L536.18,420.47 L537.51,421.88 L538.8,423.3 L540.05,424.71 L541.26,426.13 L542.41,427.54 L543.5,428.96 L544.52,430.37 L545.48,431.79 L546.38,433.2 L547.23,434.62 L548.04,436.03 L548.8,437.45 L549.53,438.86 L550.23,440.28 L550.88,441.69 L551.49,443.11 L552.03,444.52 L552.5,445.94 L552.89,447.35 L553.19,448.77 L553.4,450.18 L553.5,451.6" fill="none" stroke="#000" stroke-width="2.3" stroke-linejoin="round" stroke-linecap="square"/>
<path d="M351.9,311.5 L432.7,311.5" fill="none" stroke="#000" stroke-width="2.3" stroke-linejoin="round" stroke-linecap="square"/>
<path d="M432.7,311.5 L434.63,312.92 L436.59,314.33 L438.56,315.75 L440.55,317.16 L442.55,318.58 L444.56,319.99 L446.57,321.41 L448.58,322.82 L450.59,324.24 L452.58,325.65 L454.57,327.07 L456.54,328.48 L458.49,329.9 L460.42,331.31 L462.32,332.73 L464.19,334.14 L466.03,335.56 L467.83,336.97 L469.58,338.39 L471.29,339.8 L472.95,341.22 L474.56,342.63 L476.12,344.05 L477.64,345.46 L479.12,346.88 L480.57,348.29 L482,349.71 L483.4,351.12 L484.78,352.54 L486.16,353.95 L487.52,355.37 L488.89,356.78 L490.26,358.2 L491.64,359.62 L493.03,361.03 L494.44,362.45 L495.86,363.86 L497.3,365.28 L498.74,366.69 L500.19,368.11 L501.63,369.52 L503.07,370.94 L504.51,372.35 L505.93,373.77 L507.33,375.18 L508.72,376.6 L510.08,378.01 L511.41,379.43 L512.72,380.84 L513.98,382.26 L515.22,383.67 L516.41,385.09 L517.58,386.5 L518.71,387.92 L519.82,389.33 L520.9,390.75 L521.96,392.16 L522.99,393.58 L524.01,394.99 L525,396.41 L525.99,397.82 L526.95,399.24 L527.91,400.65 L528.86,402.07 L529.8,403.48 L530.73,404.9 L531.66,406.32 L532.59,407.73 L533.51,409.15 L534.42,410.56 L535.33,411.98 L536.23,413.39 L537.11,414.81 L537.99,416.22 L538.86,417.64 L539.71,419.05 L540.55,420.47 L541.37,421.88 L542.18,423.3 L542.97,424.71 L543.75,426.13 L544.5,427.54 L545.24,428.96 L545.95,430.37 L546.65,431.79 L547.32,433.2 L547.98,434.62 L548.61,436.03 L549.22,437.45 L549.81,438.86 L550.37,440.28 L550.91,441.69 L551.42,443.11 L551.88,444.52 L552.31,445.94 L552.69,447.35 L553.02,448.77 L553.29,450.18 L553.5,451.6" fill="none" stroke="#000" stroke-width="2.3" stroke-linejoin="round" stroke-linecap="square"/>
<text x="425.5" y="371.8" transform="rotate(0.03 425.5 371.8)" font-size="7" text-anchor="start" font-weight="bold" font-style="normal">SQ. WAVE</text>
<text x="485.6" y="347.1" transform="rotate(0.03 485.6 347.1)" font-size="7" text-anchor="start" font-weight="bold" font-style="normal">DC</text>
<text x="348.3" y="454.1" transform="rotate(0.03 348.3 454.1)" font-size="7" text-anchor="end" font-weight="bold" font-style="normal">0</text>
<text x="348.3" y="430.73" transform="rotate(0.03 348.3 430.73)" font-size="7" text-anchor="end" font-weight="bold" font-style="normal">1</text>
<text x="348.3" y="407.37" transform="rotate(0.03 348.3 407.37)" font-size="7" text-anchor="end" font-weight="bold" font-style="normal">2</text>
<text x="348.3" y="384" transform="rotate(0.03 348.3 384)" font-size="7" text-anchor="end" font-weight="bold" font-style="normal">3</text>
<text x="348.3" y="360.63" transform="rotate(0.03 348.3 360.63)" font-size="7" text-anchor="end" font-weight="bold" font-style="normal">4</text>
<text x="348.3" y="337.27" transform="rotate(0.03 348.3 337.27)" font-size="7" text-anchor="end" font-weight="bold" font-style="normal">5</text>
<text x="348.3" y="313.9" transform="rotate(0.03 348.3 313.9)" font-size="7" text-anchor="end" font-weight="bold" font-style="normal">6</text>
<text x="351.9" y="461.2" transform="rotate(0.03 351.9 461.2)" font-size="7" text-anchor="middle" font-weight="bold" font-style="normal">100</text>
<text x="392.26" y="461.2" transform="rotate(0.03 392.26 461.2)" font-size="7" text-anchor="middle" font-weight="bold" font-style="normal">115</text>
<text x="432.62" y="461.2" transform="rotate(0.03 432.62 461.2)" font-size="7" text-anchor="middle" font-weight="bold" font-style="normal">130</text>
<text x="472.98" y="461.2" transform="rotate(0.03 472.98 461.2)" font-size="7" text-anchor="middle" font-weight="bold" font-style="normal">145</text>
<text x="513.34" y="461.2" transform="rotate(0.03 513.34 461.2)" font-size="7" text-anchor="middle" font-weight="bold" font-style="normal">160</text>
<text x="553.7" y="461.2" transform="rotate(0.03 553.7 461.2)" font-size="7" text-anchor="middle" font-weight="bold" font-style="normal">175</text>
<text transform="translate(333.5 382) rotate(-90.03)" font-size="7" text-anchor="middle" font-weight="bold" textLength="141" lengthAdjust="spacingAndGlyphs">I<tspan dy="1.3" font-size="6.0">F(AV)</tspan><tspan dy="-1.3">, AVERAGE FORWARD CURRENT (A)</tspan></text>
<text x="401.6" y="473.2" transform="rotate(0.03 401.6 473.2)" font-size="7" text-anchor="start" font-weight="bold" font-style="normal">T<tspan dy="1.3" font-size="6.0">C</tspan><tspan dy="-1.3">, CASE TEMPERATURE (</tspan><tspan dy="-2.5" font-size="5.0">O</tspan><tspan dy="2.5">C)</tspan></text>
<text x="366.6" y="495.2" transform="rotate(0.03 366.6 495.2)" font-size="8" text-anchor="start" font-weight="bold" font-style="normal" textLength="153.6" lengthAdjust="spacingAndGlyphs">FIGURE 6.&#160; CURRENT DERATING CURVE</text>
<line x1="216" y1="671.4" x2="416" y2="671.4" stroke="#000" stroke-width="1.15" stroke-linecap="square"/>
<line x1="216" y1="643.46" x2="416" y2="643.46" stroke="#000" stroke-width="1.15" stroke-linecap="square"/>
<line x1="216" y1="615.52" x2="416" y2="615.52" stroke="#000" stroke-width="1.15" stroke-linecap="square"/>
<line x1="216" y1="587.58" x2="416" y2="587.58" stroke="#000" stroke-width="1.15" stroke-linecap="square"/>
<line x1="216" y1="559.64" x2="416" y2="559.64" stroke="#000" stroke-width="1.15" stroke-linecap="square"/>
<line x1="216" y1="531.7" x2="416" y2="531.7" stroke="#000" stroke-width="1.15" stroke-linecap="square"/>
<line x1="216" y1="531.7" x2="216" y2="672.7" stroke="#000" stroke-width="1.15" stroke-linecap="square"/>
<line x1="266" y1="531.7" x2="266" y2="672.7" stroke="#000" stroke-width="1.15" stroke-linecap="square"/>
<line x1="316" y1="531.7" x2="316" y2="672.7" stroke="#000" stroke-width="1.15" stroke-linecap="square"/>
<line x1="366" y1="531.7" x2="366" y2="672.7" stroke="#000" stroke-width="1.15" stroke-linecap="square"/>
<line x1="416" y1="531.7" x2="416" y2="672.7" stroke="#000" stroke-width="1.15" stroke-linecap="square"/>
<path d="M216.3,544.27 L216.29,545.75 L216.28,547.22 L216.27,548.69 L216.27,550.16 L216.27,551.63 L216.27,553.1 L216.28,554.57 L216.29,556.04 L216.31,557.51 L216.33,558.98 L216.35,560.45 L216.37,561.91 L216.39,563.38 L216.42,564.85 L216.45,566.31 L216.48,567.78 L216.51,569.25 L216.54,570.71 L216.57,572.18 L216.6,573.64 L216.63,575.11 L216.67,576.58 L216.7,578.04 L216.73,579.51 L216.76,580.98 L216.8,582.45 L216.83,583.91 L216.86,585.38 L216.88,586.85 L216.91,588.32 L216.93,589.79 L216.96,591.26 L216.98,592.73 L217,594.2 L217.01,595.67 L217.03,597.15 L217.04,598.62 L217.06,600.09 L217.08,601.56 L217.1,603.04 L217.14,604.51 L217.18,605.98 L217.23,607.45 L217.3,608.91 L217.38,610.38 L217.47,611.84 L217.59,613.3 L217.72,614.76 L217.88,616.21 L218.05,617.66 L218.25,619.11 L218.47,620.56 L218.7,622 L218.96,623.45 L219.23,624.89 L219.52,626.34 L219.82,627.78 L220.14,629.23 L220.48,630.68 L220.85,632.12 L221.27,633.54 L221.77,634.92 L222.36,636.26 L223.07,637.52 L223.91,638.72 L224.84,639.85 L225.86,640.92 L226.95,641.94 L228.1,642.9 L229.27,643.82 L230.47,644.7 L231.7,645.53 L232.94,646.33 L234.2,647.08 L235.49,647.8 L236.78,648.48 L238.1,649.14 L239.43,649.76 L240.77,650.35 L242.12,650.91 L243.49,651.44 L244.86,651.95 L246.25,652.43 L247.64,652.89 L249.05,653.33 L250.46,653.74 L251.88,654.13 L253.3,654.5 L254.73,654.86 L256.17,655.19 L257.61,655.5 L259.06,655.8 L260.51,656.08 L261.96,656.35 L263.42,656.6 L264.87,656.84 L266.33,657.06 L267.79,657.28 L269.25,657.48 L270.71,657.67 L272.17,657.85 L273.63,658.02 L275.1,658.18 L276.56,658.34 L278.02,658.48 L279.49,658.61 L280.95,658.74 L282.41,658.86 L283.88,658.97 L285.34,659.07 L286.81,659.17 L288.28,659.26 L289.74,659.34 L291.21,659.42 L292.67,659.49 L294.14,659.56 L295.61,659.62 L297.08,659.68 L298.54,659.74 L300.01,659.79 L301.48,659.84 L302.95,659.88 L304.42,659.93 L305.89,659.97 L307.35,660.01 L308.82,660.04 L310.29,660.08 L311.76,660.12 L313.23,660.15 L314.7,660.19 L316.17,660.23 L317.64,660.27 L319.1,660.3 L320.57,660.34 L322.04,660.38 L323.51,660.43 L324.98,660.47 L326.45,660.51 L327.91,660.55 L329.38,660.6 L330.85,660.64 L332.32,660.68 L333.79,660.73 L335.25,660.77 L336.72,660.82 L338.19,660.87 L339.66,660.91 L341.13,660.96 L342.59,661.01 L344.06,661.05 L345.53,661.1 L347,661.15 L348.47,661.2 L349.93,661.24 L351.4,661.29 L352.87,661.34 L354.34,661.39 L355.8,661.43 L357.27,661.48 L358.74,661.53 L360.21,661.58 L361.67,661.62 L363.14,661.67 L364.61,661.72 L366.08,661.76 L367.55,661.81 L369.01,661.85 L370.48,661.9 L371.95,661.94 L373.42,661.99 L374.88,662.03 L376.35,662.07 L377.82,662.12 L379.29,662.16 L380.76,662.2 L382.22,662.24 L383.69,662.28 L385.16,662.32 L386.63,662.35 L388.1,662.39 L389.56,662.43 L391.03,662.46 L392.5,662.5 L393.97,662.53 L395.44,662.56 L396.91,662.59 L398.37,662.62 L399.84,662.65 L401.31,662.68 L402.78,662.7 L404.25,662.73 L405.72,662.75 L407.19,662.77 L408.65,662.8 L410.12,662.81 L411.59,662.83 L413.06,662.85 L414.53,662.86 L416,662.88" fill="none" stroke="#000" stroke-width="2.3" stroke-linejoin="round" stroke-linecap="square"/>
<text x="212.4" y="673.9" transform="rotate(0.03 212.4 673.9)" font-size="7" text-anchor="end" font-weight="bold" font-style="normal">0</text>
<text x="212.4" y="645.96" transform="rotate(0.03 212.4 645.96)" font-size="7" text-anchor="end" font-weight="bold" font-style="normal">20</text>
<text x="212.4" y="618.02" transform="rotate(0.03 212.4 618.02)" font-size="7" text-anchor="end" font-weight="bold" font-style="normal">40</text>
<text x="212.4" y="590.08" transform="rotate(0.03 212.4 590.08)" font-size="7" text-anchor="end" font-weight="bold" font-style="normal">60</text>
<text x="212.4" y="562.14" transform="rotate(0.03 212.4 562.14)" font-size="7" text-anchor="end" font-weight="bold" font-style="normal">80</text>
<text x="212.4" y="534.2" transform="rotate(0.03 212.4 534.2)" font-size="7" text-anchor="end" font-weight="bold" font-style="normal">100</text>
<text x="216" y="681" transform="rotate(0.03 216 681)" font-size="7" text-anchor="middle" font-weight="bold" font-style="normal">0</text>
<text x="266" y="681" transform="rotate(0.03 266 681)" font-size="7" text-anchor="middle" font-weight="bold" font-style="normal">50</text>
<text x="316" y="681" transform="rotate(0.03 316 681)" font-size="7" text-anchor="middle" font-weight="bold" font-style="normal">100</text>
<text x="366" y="681" transform="rotate(0.03 366 681)" font-size="7" text-anchor="middle" font-weight="bold" font-style="normal">150</text>
<text x="416" y="681" transform="rotate(0.03 416 681)" font-size="7" text-anchor="middle" font-weight="bold" font-style="normal">200</text>
<text transform="translate(195 602.2) rotate(-90.03)" font-size="7" text-anchor="middle" font-weight="bold" textLength="113.2" lengthAdjust="spacingAndGlyphs">C<tspan dy="1.3" font-size="6.0">J</tspan><tspan dy="-1.3">, JUNCTION CAPACITANCE (pF)</tspan></text>
<text x="269.3" y="693.2" transform="rotate(0.03 269.3 693.2)" font-size="7" text-anchor="start" font-weight="bold" font-style="normal">V<tspan dy="1.3" font-size="6.0">R</tspan><tspan dy="-1.3">, REVERSE VOLTAGE (V)</tspan></text>
<text x="188.9" y="715" transform="rotate(0.03 188.9 715)" font-size="8" text-anchor="start" font-weight="bold" font-style="normal" textLength="233.6" lengthAdjust="spacingAndGlyphs">FIGURE 7.&#160;&#160; JUNCTION CAPACITANCE vs REVERSE VOLTAGE</text>
</svg>
</body></html>
